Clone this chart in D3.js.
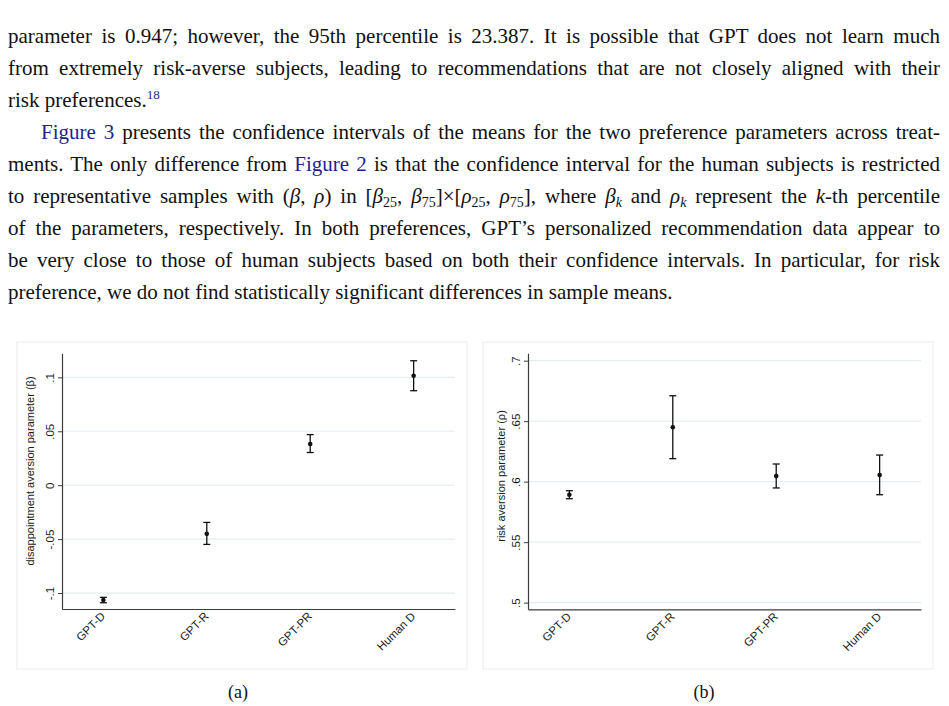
<!DOCTYPE html>
<html>
<head>
  <meta charset="utf-8" />
  <title>Figure 3</title>
  <script src="https://cdnjs.cloudflare.com/ajax/libs/d3/7.8.5/d3.min.js"></script>
  <style>
    body { margin: 0; background: #fff; }
    #page { position: relative; width: 949px; height: 706px; overflow: hidden; }
    #text { position: absolute; left: 8px; top: 20px; width: 932px;
            font-family: "Liberation Serif", serif; font-size: 21px; color: #111; }
    .ln { height: 32px; line-height: 32px; text-align: justify; text-align-last: justify; }
    .last { text-align-last: left; }
    .ind { text-indent: 33px; }
    .ref { color: #1f1f8c; }
    sup { font-size: 13px; line-height: 0; vertical-align: 8px; }
    sub { font-size: 14px; line-height: 0; vertical-align: -4px; }
    svg { position: absolute; left: 0; top: 0; }
  </style>
</head>
<body>
<div id="page">
  <svg id="chart" width="949" height="706"></svg>
  <div id="text">
    <div class="ln">parameter is 0.947; however, the 95th percentile is 23.387. It is possible that GPT does not learn much</div>
    <div class="ln">from extremely risk-averse subjects, leading to recommendations that are not closely aligned with their</div>
    <div class="ln last">risk preferences.<sup class="ref">18</sup></div>
    <div class="ln ind"><span class="ref">Figure 3</span> presents the confidence intervals of the means for the two preference parameters across treat-</div>
    <div class="ln">ments. The only difference from <span class="ref">Figure 2</span> is that the confidence interval for the human subjects is restricted</div>
    <div class="ln">to representative samples with (<i>β</i>, <i>ρ</i>) in [<i>β</i><sub>25</sub>, <i>β</i><sub>75</sub>]×[<i>ρ</i><sub>25</sub>, <i>ρ</i><sub>75</sub>], where <i>β<sub>k</sub></i> and <i>ρ<sub>k</sub></i> represent the <i>k</i>-th percentile</div>
    <div class="ln">of the parameters, respectively. In both preferences, GPT’s personalized recommendation data appear to</div>
    <div class="ln">be very close to those of human subjects based on both their confidence intervals. In particular, for risk</div>
    <div class="ln last">preference, we do not find statistically significant differences in sample means.</div>
  </div>
</div>
<script>

  // treatments on the x axis
  var categories = ["GPT-D", "GPT-R", "GPT-PR", "Human D"];

  // (a) disappointment aversion: mean and 95% CI
  var betaMean = [-0.1065, -0.0451, 0.0382, 0.1015];
  var betaLow  = [-0.1090, -0.0549, 0.0303, 0.0876];
  var betaHigh = [-0.1040, -0.0345, 0.0469, 0.1154];
  var betaTicks  = [-0.1, -0.05, 0, 0.05, 0.1];
  var betaLabels = ["-.1", "-.05", "0", ".05", ".1"];

  // (b) risk aversion: mean and 95% CI
  var rhoMean = [0.5892, 0.6450, 0.6046, 0.6055];
  var rhoLow  = [0.5859, 0.6190, 0.5948, 0.5892];
  var rhoHigh = [0.5925, 0.6710, 0.6146, 0.6220];
  var rhoTicks  = [0.5, 0.55, 0.6, 0.65, 0.7];
  var rhoLabels = [".5", ".55", ".6", ".65", ".7"];

  var svg = d3.select("#chart");
  var axisFont = "'Liberation Sans', Arial, sans-serif";

  function drawPanel(o) {
    var g = svg.append("g");

    // light outer frame
    g.append("rect")
      .attr("x", o.frame[0]).attr("y", o.frame[1])
      .attr("width", o.frame[2] - o.frame[0]).attr("height", o.frame[3] - o.frame[1])
      .attr("fill", "#fff").attr("stroke", "#ececec").attr("stroke-width", 1);

    var x = d3.scalePoint().domain(categories).range([o.left, o.right]).padding(0.4);
    var y = d3.scaleLinear().domain(o.domain).range([o.bottom, o.top]);

    // gridlines
    g.selectAll(".grid").data(o.ticks).enter()
      .append("line")
        .attr("x1", o.left).attr("x2", o.right)
        .attr("y1", d => y(d)).attr("y2", d => y(d))
        .attr("stroke", "#e4eef0").attr("stroke-width", 1.2);

    // y axis
    var yAxis = d3.axisLeft(y).tickValues(o.ticks).tickSize(4).tickSizeOuter(0)
                  .tickFormat((d, i) => o.labels[i]);
    var yg = g.append("g").attr("transform", "translate(" + o.left + ",0)").call(yAxis);
    yg.select(".domain").attr("stroke", "#3c3c3c").attr("stroke-width", 1.2);
    yg.selectAll(".tick line").attr("stroke", "#3c3c3c");
    yg.selectAll(".tick text")
      .attr("transform", "rotate(-90)")
      .attr("x", 0).attr("y", -8).attr("dy", 0)
      .attr("text-anchor", "middle")
      .attr("fill", "#1a1a1a")
      .style("font-family", axisFont).style("font-size", "11.5px");

    // x axis
    var xAxis = d3.axisBottom(x).tickSize(0).tickSizeOuter(0);
    var xg = g.append("g").attr("transform", "translate(0," + o.bottom + ")").call(xAxis);
    xg.select(".domain").attr("stroke", "#3c3c3c").attr("stroke-width", 1.2);
    xg.selectAll(".tick text")
      .attr("x", 0).attr("y", 0).attr("dy", 0)
      .attr("transform", "translate(2,8) rotate(-45)")
      .attr("text-anchor", "end")
      .attr("fill", "#1a1a1a")
      .style("font-family", axisFont).style("font-size", "11.5px");

    // axis title
    g.append("text")
      .attr("transform", "translate(" + o.titleX + "," + o.titleY + ") rotate(-90)")
      .attr("text-anchor", "middle")
      .attr("fill", "#1a1a1a")
      .style("font-family", axisFont).style("font-size", "11px")
      .text(o.title);

    // error bars
    var bars = g.selectAll(".bar").data(categories).enter().append("g");
    bars.append("line")
      .attr("x1", d => x(d)).attr("x2", d => x(d))
      .attr("y1", (d, i) => y(o.low[i])).attr("y2", (d, i) => y(o.high[i]))
      .attr("stroke", "#111").attr("stroke-width", 1.3);
    bars.append("line")
      .attr("x1", d => x(d) - 3.5).attr("x2", d => x(d) + 3.5)
      .attr("y1", (d, i) => y(o.low[i])).attr("y2", (d, i) => y(o.low[i]))
      .attr("stroke", "#111").attr("stroke-width", 1.3);
    bars.append("line")
      .attr("x1", d => x(d) - 3.5).attr("x2", d => x(d) + 3.5)
      .attr("y1", (d, i) => y(o.high[i])).attr("y2", (d, i) => y(o.high[i]))
      .attr("stroke", "#111").attr("stroke-width", 1.3);
    bars.append("circle")
      .attr("cx", d => x(d)).attr("cy", (d, i) => y(o.mean[i]))
      .attr("r", 2.3).attr("fill", "#111");

    // panel caption
    svg.append("text")
      .attr("x", o.capX).attr("y", 698)
      .attr("text-anchor", "middle")
      .style("font-family", "'Liberation Serif', serif").style("font-size", "18px")
      .attr("fill", "#111")
      .text(o.caption);
  }

  drawPanel({
    frame: [17, 342, 467, 669],
    left: 62, right: 455, top: 353.3, bottom: 609,
    domain: [-0.1148, 0.1223],
    ticks: betaTicks, labels: betaLabels,
    title: "disappointment aversion parameter (β)", titleX: 33.5, titleY: 471,
    mean: betaMean, low: betaLow, high: betaHigh,
    caption: "(a)", capX: 238
  });

  drawPanel({
    frame: [483, 342, 933, 669],
    left: 528, right: 921, top: 353.3, bottom: 609.3,
    domain: [0.4945, 0.7061],
    ticks: rhoTicks, labels: rhoLabels,
    title: "risk aversion parameter (ρ)", titleX: 505, titleY: 476,
    mean: rhoMean, low: rhoLow, high: rhoHigh,
    caption: "(b)", capX: 704
  });

</script>
</body>
</html>
